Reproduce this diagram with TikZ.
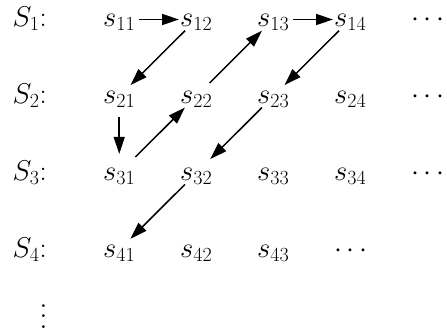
\RequirePackage{fix-cm}
\documentclass[tikz,border=0pt]{standalone}
\usepackage{graphicx}
\usetikzlibrary{arrows.meta}
\tikzset{
  big/.style={font=\fontsize{28.6pt}{34pt}\selectfont},
  cell/.style={big, anchor=base west, inner sep=4pt, text height=14pt, text depth=0pt},
  plain/.style={big, anchor=base west, inner sep=0pt},
  arr/.style={line width=1.5pt, -{Triangle[length=17pt,width=11pt]}}
}
\begin{document}
\begin{tikzpicture}[x=1pt,y=-1pt]
\useasboundingbox (0,0) rectangle (447,335);
% row labels
\node[plain] (S1) at (12.5,26.5) {$S_1$:};
\node[plain] (S2) at (12.5,103.3) {$S_2$:};
\node[plain] (S3) at (12.5,180.1) {$S_3$:};
\node[plain] (S4) at (12.5,257) {$S_4$:};
% row 1
\node[cell] (s11) at (99,26.5) {$s_{11}$};
\node[cell] (s12) at (176,26.5) {$s_{12}$};
\node[cell] (s13) at (253,26.5) {$s_{13}$};
\node[cell] (s14) at (330,26.5) {$s_{14}$};
\node[plain] (d1) at (411,26.5) {$\cdots$};
% row 2
\node[cell] (s21) at (99,103.3) {$s_{21}$};
\node[cell] (s22) at (176,103.3) {$s_{22}$};
\node[cell] (s23) at (253,103.3) {$s_{23}$};
\node[cell] (s24) at (330,103.3) {$s_{24}$};
\node[plain] (d2) at (411,103.3) {$\cdots$};
% row 3
\node[cell] (s31) at (99,180.1) {$s_{31}$};
\node[cell] (s32) at (176,180.1) {$s_{32}$};
\node[cell] (s33) at (253,180.1) {$s_{33}$};
\node[cell] (s34) at (330,180.1) {$s_{34}$};
\node[plain] (d3) at (411,180.1) {$\cdots$};
% row 4
\node[cell] (s41) at (99,257) {$s_{41}$};
\node[cell] (s42) at (176,257) {$s_{42}$};
\node[cell] (s43) at (253,257) {$s_{43}$};
\node[plain] (d4) at (334,257) {$\cdots$};
% vertical dots
\node[anchor=base, inner sep=0pt] (vd) at (43.5,328) {\scalebox{2.6}{\fontsize{11pt}{13pt}\selectfont$\vdots$}};
% arrows
\draw[arr, shorten >=-3pt] (s11) -- (s12);
\draw[arr] (s12) -- (s21);
\draw[arr, shorten <=9pt, shorten >=8pt] (s21) -- (s31);
\draw[arr, shorten <=7pt] (s31) -- (s22);
\draw[arr, shorten <=3pt] (s22) -- (s13);
\draw[arr, shorten >=-3pt] (s13) -- (s14);
\draw[arr] (s14) -- (s23);
\draw[arr, shorten >=4pt] (s23) -- (s32);
\draw[arr] (s32) -- (s41);
\end{tikzpicture}
\end{document}
